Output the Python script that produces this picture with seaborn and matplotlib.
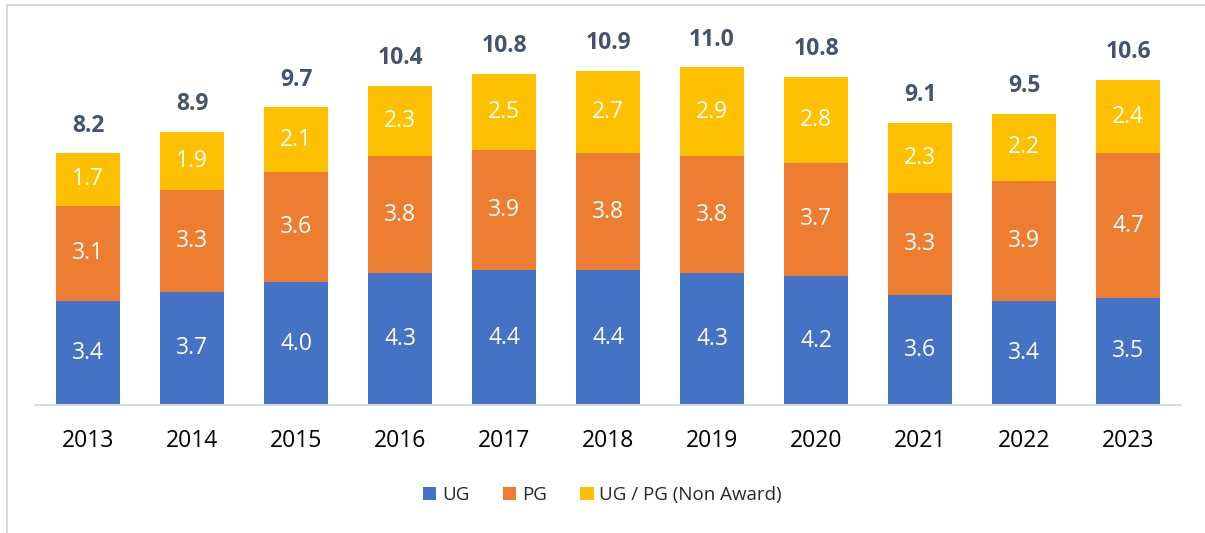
import numpy as np
import pandas as pd
import matplotlib
matplotlib.use("Agg")
import matplotlib.pyplot as plt
from matplotlib.patches import Patch
from matplotlib.lines import Line2D
import seaborn as sns

years = ["2013", "2014", "2015", "2016", "2017", "2018", "2019", "2020", "2021", "2022", "2023"]
ug = [3.4, 3.7, 4.0, 4.3, 4.4, 4.4, 4.3, 4.2, 3.6, 3.4, 3.5]
pg = [3.1, 3.3, 3.6, 3.8, 3.9, 3.8, 3.8, 3.7, 3.3, 3.9, 4.7]
non_award = [1.7, 1.9, 2.1, 2.3, 2.5, 2.7, 2.9, 2.8, 2.3, 2.2, 2.4]
totals = [8.2, 8.9, 9.7, 10.4, 10.8, 10.9, 11.0, 10.8, 9.1, 9.5, 10.6]

series = ["UG", "PG", "UG / PG (Non Award)"]
colors = ["#4472C4", "#ED7D31", "#FFC000"]

sns.set_theme(style="white")
plt.rcParams["font.family"] = ["Open Sans", "DejaVu Sans"]

df = pd.DataFrame({"year": years, "UG": ug, "PG": pg, "NA": non_award})
df["top_pg"] = df["UG"] + df["PG"]
df["top_na"] = df["top_pg"] + df["NA"]

fig = plt.figure(figsize=(12.05, 5.33), dpi=100)
ax = fig.add_axes([0.0299, 0.240, 0.9494, 0.691])

# draw cumulative layers back to front
for col, c in [("top_na", colors[2]), ("top_pg", colors[1]), ("UG", colors[0])]:
    sns.barplot(data=df, x="year", y=col, color=c, width=0.62, saturation=1,
                ax=ax, edgecolor="none")

# segment labels
for i in range(len(years)):
    bottoms = [0, ug[i], ug[i] + pg[i]]
    for b, v in zip(bottoms, [ug[i], pg[i], non_award[i]]):
        ax.text(i, b + v / 2, f"{v:.1f}", ha="center", va="center",
                color="white", fontsize=16.5)
    ax.annotate(f"{totals[i]:.1f}", (i, df["top_na"][i]), xytext=(0, 20),
                textcoords="offset points", ha="center", va="center",
                color="#44546A", fontsize=16.5, fontweight="bold")

ax.set_xlim(-0.5, len(years) - 0.5)
ax.set_ylim(0, 12)
ax.set_xlabel("")
ax.set_ylabel("")
ax.set_yticks([])
for s in ["top", "left", "right"]:
    ax.spines[s].set_visible(False)
ax.spines["bottom"].set_color("#D9D9D9")
ax.spines["bottom"].set_linewidth(1.5)
ax.tick_params(axis="x", length=0, pad=17, labelsize=16.5, labelcolor="black")

handles = [Patch(facecolor=c, edgecolor="none") for c in colors]
fig.legend(handles, series, loc="center", bbox_to_anchor=(0.5, 0.071), ncol=3,
           frameon=False, fontsize=13.5, handlelength=0.7, handleheight=0.7,
           handletextpad=0.3, columnspacing=1.8)

# outer frame lines (left and top)
fig.add_artist(Line2D([0.006, 0.006], [0, 0.99], transform=fig.transFigure,
                      color="#D9D9D9", lw=1.5))
fig.add_artist(Line2D([0.006, 1.0], [0.99, 0.99], transform=fig.transFigure,
                      color="#D9D9D9", lw=1.5))

fig.savefig("out.png", dpi=100)
